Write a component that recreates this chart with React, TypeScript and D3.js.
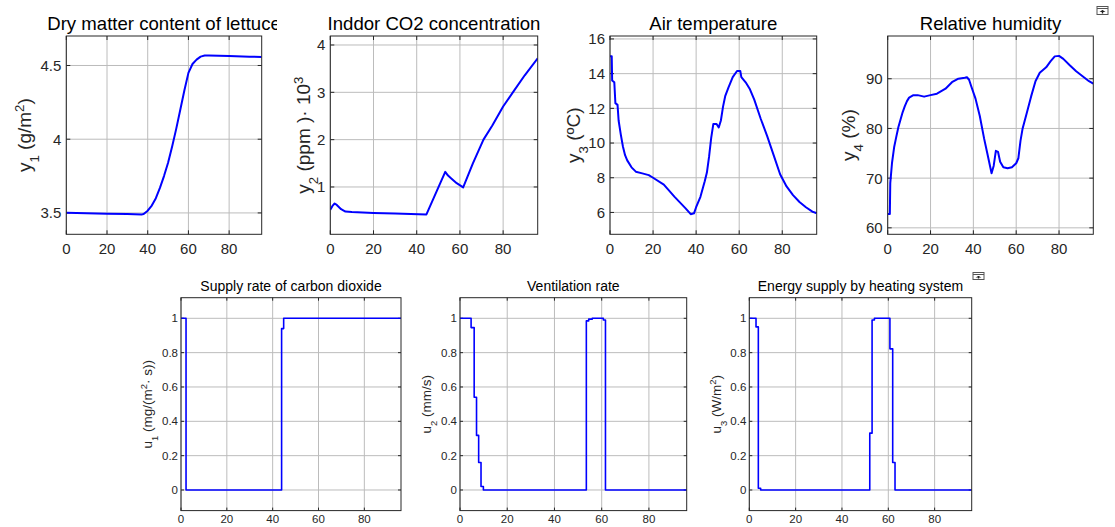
import React from "react";
import * as d3 from "d3";

// ---------- data ----------
const X_TICKS = [0, 20, 40, 60, 80];
const X_MAX = 96;

const dryMatter: [number, number][] = [
  [0, 3.502], [10, 3.498], [20, 3.495], [30, 3.492], [37, 3.49], [38, 3.492], [40, 3.515],
  [42, 3.55], [44, 3.6], [46, 3.67], [48, 3.75], [50, 3.84], [52, 3.95], [54, 4.07],
  [56, 4.2], [58, 4.33], [60, 4.45], [62, 4.51], [64, 4.54], [66, 4.56], [68, 4.568],
  [70, 4.567], [80, 4.565], [90, 4.56], [96, 4.558],
];
const co2: [number, number][] = [
  [0, 0.52], [1, 0.6], [2, 0.65], [3, 0.62], [5, 0.53], [7, 0.48], [10, 0.47], [20, 0.45],
  [30, 0.44], [44.5, 0.42], [53.2, 1.32], [54.5, 1.24], [56, 1.18], [58.5, 1.08], [61.5, 0.99],
  [66, 1.5], [70.9, 2.0], [75, 2.3], [80, 2.7], [84.5, 3.0], [90, 3.36], [96, 3.72],
];
const airTemp: [number, number][] = [
  [0, 15.0], [0.8, 15.0], [1, 13.6], [2, 13.5], [2.5, 12.3], [3.5, 12.2], [4, 11.3], [5, 10.5],
  [6, 9.8], [7, 9.3], [8, 9.0], [10, 8.6], [12, 8.35], [15, 8.25], [18, 8.15], [20, 8.0],
  [25, 7.6], [30, 6.9], [35, 6.25], [37.5, 5.9], [39, 5.95], [40, 6.3], [42, 6.9], [44, 7.8],
  [45, 8.3], [46, 9.2], [47, 10.3], [48, 11.1], [49.5, 11.1], [50.5, 10.9], [51.5, 11.3],
  [52.5, 12.1], [53.5, 12.7], [55, 13.2], [57, 13.8], [59, 14.15], [60.5, 14.15], [61, 13.8],
  [63, 13.5], [65, 13.1], [67, 12.5], [70, 11.4], [73, 10.4], [76, 9.3], [79, 8.2], [82, 7.5],
  [85, 7.0], [88, 6.6], [91, 6.3], [94, 6.05], [96, 5.95],
];
const humidity: [number, number][] = [
  [0, 62.8], [1, 62.8], [1.2, 69], [2, 73], [3, 76.2], [4, 78.3], [5, 80.3], [6, 81.8], [7, 83.3],
  [8, 84.5], [9, 85.5], [10, 86.2], [12, 86.7], [14, 86.7], [17, 86.4], [20, 86.7], [23, 87.0],
  [27, 88.0], [30, 89.3], [33, 90.0], [36, 90.2], [37, 90.3], [38, 89.8], [39, 88.5], [41, 86.0],
  [43, 82.5], [45, 78.0], [46.5, 75.0], [48, 72.0], [48.5, 71.0], [49.5, 72.5], [50.5, 75.5],
  [51.5, 75.3], [52.5, 73.3], [54, 72.2], [56, 72.0], [58, 72.2], [60, 73.0], [61, 74.0],
  [62, 77.5], [63, 80.0], [65, 83.2], [67, 86.5], [69, 89.5], [71, 91.2], [74, 92.3], [76, 93.5],
  [78, 94.5], [80, 94.6], [82, 94.0], [85, 92.7], [88, 91.5], [91, 90.5], [94, 89.5], [96, 89.0],
];
const u1Supply: [number, number][] = [
  [0, 1], [2.2, 0], [43.9, 0.94], [44.8, 1], [96, 1],
];
const u2Vent: [number, number][] = [
  [0, 1], [4.7, 0.946], [6, 0.54], [7, 0.318], [7.9, 0.16], [8.9, 0.02], [9.9, 0],
  [53.5, 0.985], [54.5, 0.995], [56, 1], [60.7, 0.99], [61.6, 0], [96, 0],
];
const u3Heat: [number, number][] = [
  [0, 1], [2.9, 0.95], [3.9, 0.01], [4.9, 0], [52, 0.331], [53, 0.99], [54, 1],
  [60.7, 0.822], [61.9, 0.16], [62.9, 0], [96, 0],
];

const Y1_TICKS = [3.5, 4, 4.5];
const Y2_TICKS = [1, 2, 3, 4];
const Y3_TICKS = [6, 8, 10, 12, 14, 16];
const Y4_TICKS = [60, 70, 80, 90];
const U_TICKS = [0, 0.2, 0.4, 0.6, 0.8, 1];

type Label = { base: string; sub: string; rest: { t: string; sup?: boolean }[] };

const FONT = "'Liberation Sans', Arial, Helvetica, sans-serif";

interface Panel {
  id: string;
  title: string;
  ylab: Label;
  data: [number, number][];
  yDomain: [number, number];
  yTicks: number[];
  step: boolean;
  l: number; r: number; t: number; b: number;
  big: boolean;
  ylabX: number;
  titleClip?: number;
}

const TOP = { t: 36, b: 234.3 };
const BOT = { t: 297.7, b: 510.6 };

const panels: Panel[] = [
  { id: "p1", title: "Dry matter content of lettuce", ylab: { base: "y", sub: "1", rest: [{ t: " (g/m" }, { t: "2", sup: true }, { t: ")" }] },
    data: dryMatter, yDomain: [3.355, 4.7], yTicks: Y1_TICKS, step: false, l: 66.3, r: 261.7, ...TOP, big: true, ylabX: 31, titleClip: 277 },
  { id: "p2", title: "Inddor CO2 concentration", ylab: { base: "y", sub: "2", rest: [{ t: " (ppm )· 10" }, { t: "3", sup: true }] },
    data: co2, yDomain: [0, 4.19], yTicks: Y2_TICKS, step: false, l: 330.3, r: 537.7, ...TOP, big: true, ylabX: 310 },
  { id: "p3", title: "Air temperature", ylab: { base: "y", sub: "3", rest: [{ t: " (ºC)" }] },
    data: airTemp, yDomain: [4.74, 16.17], yTicks: Y3_TICKS, step: false, l: 610, r: 816.7, ...TOP, big: true, ylabX: 579.5 },
  { id: "p4", title: "Relative humidity", ylab: { base: "y", sub: "4", rest: [{ t: " (%)" }] },
    data: humidity, yDomain: [58.7, 98.6], yTicks: Y4_TICKS, step: false, l: 887.7, r: 1093.3, ...TOP, big: true, ylabX: 855 },
  { id: "p5", title: "Supply rate of carbon dioxide", ylab: { base: "u", sub: "1", rest: [{ t: " (mg/(m" }, { t: "2", sup: true }, { t: "· s))" }] },
    data: u1Supply, yDomain: [-0.12, 1.12], yTicks: U_TICKS, step: true, l: 181, r: 401, ...BOT, big: false, ylabX: 152 },
  { id: "p6", title: "Ventilation rate", ylab: { base: "u", sub: "2", rest: [{ t: " (mm/s)" }] },
    data: u2Vent, yDomain: [-0.12, 1.12], yTicks: U_TICKS, step: true, l: 460, r: 686.7, ...BOT, big: false, ylabX: 430.5 },
  { id: "p7", title: "Energy supply by heating system", ylab: { base: "u", sub: "3", rest: [{ t: " (W/m" }, { t: "2", sup: true }, { t: ")" }] },
    data: u3Heat, yDomain: [-0.12, 1.12], yTicks: U_TICKS, step: true, l: 749.3, r: 971.7, ...BOT, big: false, ylabX: 720.5 },
];

function PanelView({ p }: { p: Panel }) {
  const x = d3.scaleLinear().domain([0, X_MAX]).range([p.l, p.r]);
  const y = d3.scaleLinear().domain(p.yDomain).range([p.b, p.t]);
  const line = d3
    .line<[number, number]>()
    .x((d) => x(d[0]))
    .y((d) => y(d[1]))
    .curve(p.step ? d3.curveStepAfter : d3.curveLinear);
  const tickFs = p.big ? 15 : 11.5;
  const titleFs = p.big ? 18.6 : 14;
  const ylabFs = p.big ? 19 : 13.5;
  const titleY = p.big ? 29.5 : 290.7;
  const xLabY = p.big ? 254 : 523.3;
  const cy = (p.t + p.b) / 2;
  const cx = (p.l + p.r) / 2;
  const tickLen = p.big ? 4 : 3;
  return (
    <g>
      <defs>
        <clipPath id={`clip-${p.id}`}>
          <rect x={p.l} y={p.t} width={p.r - p.l} height={p.b - p.t} />
        </clipPath>
        {p.titleClip && (
          <clipPath id={`tclip-${p.id}`}>
            <rect x={0} y={0} width={p.titleClip} height={60} />
          </clipPath>
        )}
      </defs>
      <rect x={p.l} y={p.t} width={p.r - p.l} height={p.b - p.t} fill="#fff" />
      {/* grid */}
      {X_TICKS.map((v) => (
        <line key={`gx${v}`} x1={x(v)} x2={x(v)} y1={p.t} y2={p.b} stroke="#bcbcbc" strokeWidth={1} />
      ))}
      {p.yTicks.map((v) => (
        <line key={`gy${v}`} x1={p.l} x2={p.r} y1={y(v)} y2={y(v)} stroke="#bcbcbc" strokeWidth={1} />
      ))}
      {/* ticks */}
      {X_TICKS.map((v) => (
        <g key={`tx${v}`}>
          <line x1={x(v)} x2={x(v)} y1={p.b} y2={p.b - tickLen} stroke="#262626" />
          <line x1={x(v)} x2={x(v)} y1={p.t} y2={p.t + tickLen} stroke="#262626" />
          <text x={x(v)} y={xLabY} textAnchor="middle" fontSize={tickFs} fill="#262626">{v}</text>
        </g>
      ))}
      {p.yTicks.map((v) => (
        <g key={`ty${v}`}>
          <line x1={p.l} x2={p.l + tickLen} y1={y(v)} y2={y(v)} stroke="#262626" />
          <line x1={p.r} x2={p.r - tickLen} y1={y(v)} y2={y(v)} stroke="#262626" />
          <text x={p.l - (p.big ? 5 : 3)} y={y(v)} dy="0.36em" textAnchor="end" fontSize={tickFs} fill="#262626">{String(v)}</text>
        </g>
      ))}
      {/* data line */}
      <path d={line(p.data) || ""} fill="none" stroke="#0000ff" strokeWidth={p.big ? 2 : 1.6} clipPath={`url(#clip-${p.id})`} strokeLinejoin="round" />
      {/* box */}
      <rect x={p.l} y={p.t} width={p.r - p.l} height={p.b - p.t} fill="none" stroke="#262626" strokeWidth={1} />
      {/* title */}
      <text x={cx} y={titleY} textAnchor="middle" fontSize={titleFs} fill="#000" clipPath={p.titleClip ? `url(#tclip-${p.id})` : undefined}>{p.title}</text>
      {/* y label */}
      <text transform={`translate(${p.ylabX},${cy}) rotate(-90)`} textAnchor="middle" fontSize={ylabFs} fill="#262626">
        <tspan>{p.ylab.base}</tspan>
        <tspan fontSize="70%" baselineShift="sub">{p.ylab.sub}</tspan>
        {p.ylab.rest.map((r, i) => (
          <tspan key={i} fontSize={r.sup ? "70%" : undefined} baselineShift={r.sup ? "super" : undefined}>{r.t}</tspan>
        ))}
      </text>
    </g>
  );
}

function Icon({ x, y, w, h }: { x: number; y: number; w: number; h: number }) {
  return (
    <g>
      <rect x={x} y={y} width={w} height={h} fill="#fff" stroke="#555" strokeWidth={1} />
      <line x1={x} x2={x + w} y1={y + 2} y2={y + 2} stroke="#555" strokeWidth={1} />
      <path d={`M${x + w / 2 - 3},${y + h / 2 + 1.5} L${x + w / 2},${y + 3.5} L${x + w / 2 + 3},${y + h / 2 + 1.5} Z`} fill="#222" />
      <line x1={x + w / 2} x2={x + w / 2} y1={y + h / 2} y2={y + h - 1} stroke="#222" strokeWidth={1.4} />
    </g>
  );
}

export default function App() {
  return (
    <svg
      width={1115}
      height={527}
      style={{ position: "absolute", left: 0, top: 0, background: "#fff", fontFamily: FONT }}
    >
      <rect x={0} y={0} width={1115} height={527} fill="#fff" />
      {panels.map((p) => (
        <PanelView key={p.id} p={p} />
      ))}
      <Icon x={1097} y={6.5} w={11} h={8} />
      <Icon x={973} y={272.5} w={11} h={7} />
    </svg>
  );
}
